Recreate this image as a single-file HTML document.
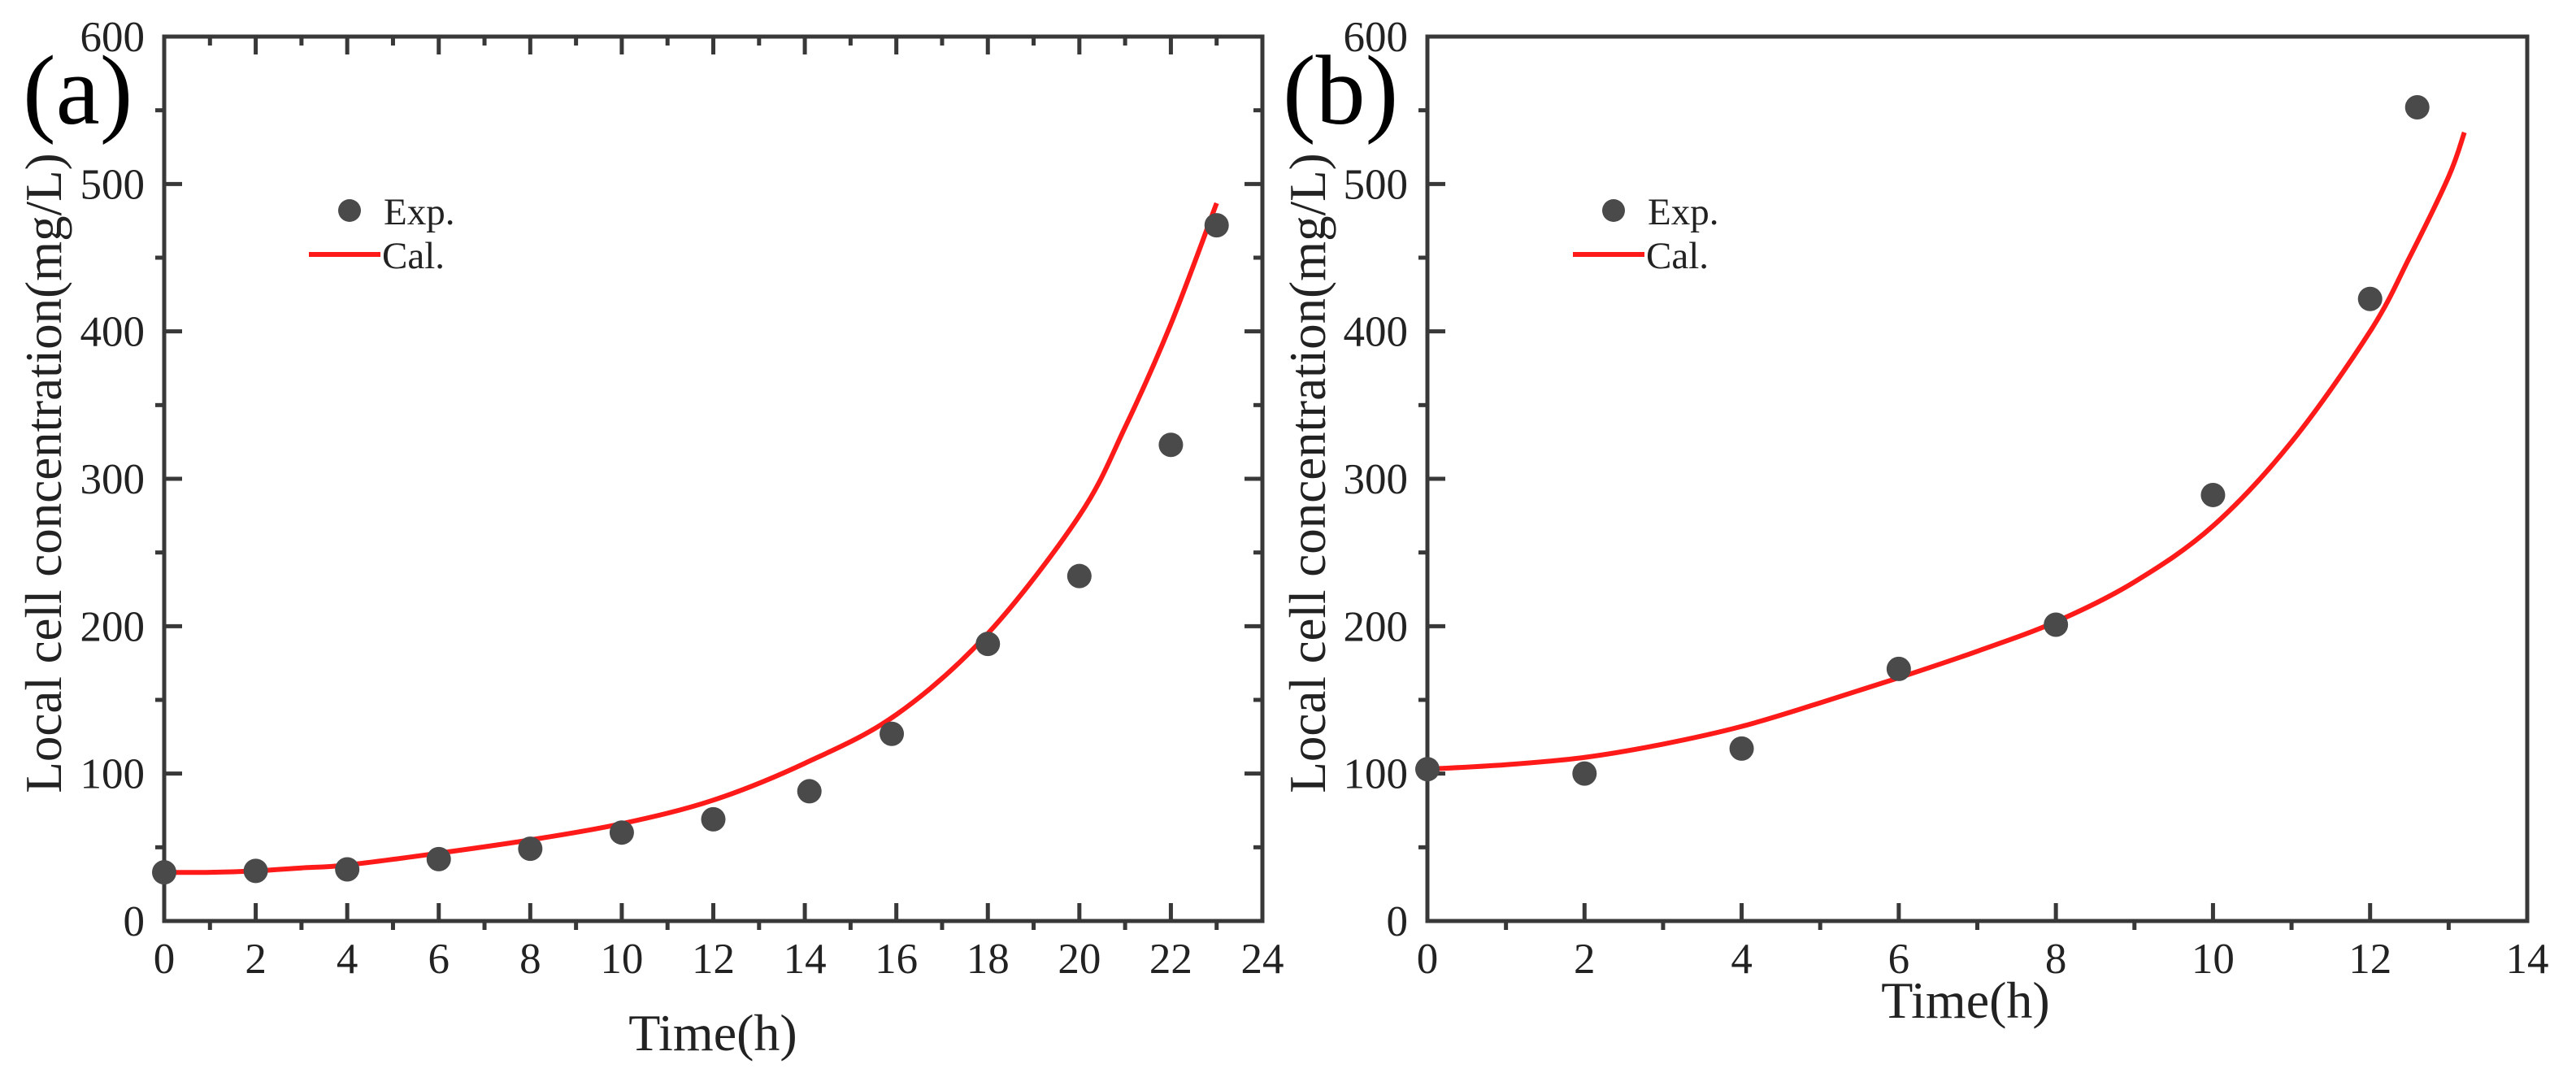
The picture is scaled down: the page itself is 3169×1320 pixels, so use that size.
<!DOCTYPE html>
<html><head><meta charset="utf-8"><style>
html,body{margin:0;padding:0;background:#fff;}
svg{display:block;}
text{font-family:"Liberation Serif",serif;}
</style></head><body>
<svg id="chart" width="3169" height="1320" viewBox="0 0 3169 1320" xmlns="http://www.w3.org/2000/svg"></svg>
<script>
// Panel (a) data
const aExpX = [0,2,4,6,8,10,12,14.1,15.9,18,20,22,23];
const aExpY = [33,34,35,42,49,60,69,88,127,188,234,323,472];
const aCalX = [0,1,2,3,4,6,8,10,12,14,16,18,20,21,22,23];
const aCalY = [33,33,34,36,38,46,55,66,82,107,140,195,275,335,405,487];
const aXTicks = [0,2,4,6,8,10,12,14,16,18,20,22,24];
// Panel (b) data
const bExpX = [0,2,4,6,8,10,12,12.6];
const bExpY = [103,100,117,171,201,289,422,552];
const bCalX = [0,1,2,3,4,5,6,7,8,9,10,11,12,12.5,13,13.2];
const bCalY = [103,106,111,120,132,148,165,183,203,230,268,325,400,450,505,535];
const bXTicks = [0,2,4,6,8,10,12,14];
const yTicks = [0,100,200,300,400,500,600];

const svg = document.getElementById('chart');
const NS = 'http://www.w3.org/2000/svg';
function mk(tag, attrs, parent){
  const e = document.createElementNS(NS, tag);
  for (const k in attrs) e.setAttribute(k, attrs[k]);
  (parent||svg).appendChild(e);
  return e;
}
function smoothPath(pts){
  let d = 'M'+pts[0][0]+','+pts[0][1];
  for (let i=0;i<pts.length-1;i++){
    const p0=pts[Math.max(0,i-1)], p1=pts[i], p2=pts[i+1], p3=pts[Math.min(pts.length-1,i+2)];
    const c1x=p1[0]+(p2[0]-p0[0])/6, c1y=p1[1]+(p2[1]-p0[1])/6;
    const c2x=p2[0]-(p3[0]-p1[0])/6, c2y=p2[1]-(p3[1]-p1[1])/6;
    d+=' C'+c1x+','+c1y+' '+c2x+','+c2y+' '+p2[0]+','+p2[1];
  }
  return d;
}
function panel(cfg){
  const g = mk('g', {});
  
  
  const L=cfg.left, R=cfg.right, T=45, B=1133;
  const sx = v => L + v / cfg.xmax * (R - L);
  const sy = v => B - v / 600 * (B - T);
  const ax = '#383838';
  const frame = mk('path', {d:`M${L},${T} H${R} V${B} H${L} Z`, fill:'none', stroke:ax, 'stroke-width':5}, g);
  
  
  const step = cfg.xTicks[1]-cfg.xTicks[0];
  cfg.xTicks.forEach((t,i)=>{
    const x = sx(t);
    if (i>0 && i<cfg.xTicks.length-1){
      mk('line',{x1:x,y1:B,x2:x,y2:B-22,stroke:ax,'stroke-width':5},g);
      if (cfg.mirror) mk('line',{x1:x,y1:T,x2:x,y2:T+22,stroke:ax,'stroke-width':5},g);
    }
    if (i<cfg.xTicks.length-1){
      const xm = sx(t+step/2);
      mk('line',{x1:xm,y1:B,x2:xm,y2:B+11,stroke:ax,'stroke-width':5},g);
      if (cfg.mirror) mk('line',{x1:xm,y1:T,x2:xm,y2:T+11,stroke:ax,'stroke-width':5},g);
    }
    const lbl = mk('text',{x:x,y:1197,'font-size':53,'text-anchor':'middle',fill:'#222'},g);
    lbl.textContent = t;
    
    
  });
  yTicks.forEach((t,i)=>{
    const y = sy(t);
    if (i>0 && i<yTicks.length-1){
      mk('line',{x1:L,y1:y,x2:L+22,y2:y,stroke:ax,'stroke-width':5},g);
      if (cfg.mirror) mk('line',{x1:R,y1:y,x2:R-22,y2:y,stroke:ax,'stroke-width':5},g);
    }
    if (i<yTicks.length-1){
      const ym = sy(t+50);
      mk('line',{x1:L,y1:ym,x2:L-11,y2:ym,stroke:ax,'stroke-width':5},g);
      if (cfg.mirror) mk('line',{x1:R,y1:ym,x2:R-11,y2:ym,stroke:ax,'stroke-width':5},g);
    }
    const lbl = mk('text',{x:L-24,y:y+18,'font-size':53,'text-anchor':'end',fill:'#222'},g);
    lbl.textContent = t;
    
    
  });
  const pts = cfg.calX.map((x,i)=>[sx(x), sy(cfg.calY[i])]);
  const line = mk('path',{d:smoothPath(pts),fill:'none',stroke:'#ff1a1a','stroke-width':6},g);
  
  
  cfg.expX.forEach((x,i)=>{
    const c = mk('circle',{cx:sx(x),cy:sy(cfg.expY[i]),r:15,fill:'#4a4a4a'},g);
    
    
  });
  const yt = mk('text',{x:0,y:0,'font-size':63,'text-anchor':'middle',fill:'#222',transform:`translate(${cfg.ytX},582) rotate(-90)`},g);
  yt.textContent = 'Local cell concentration(mg/L)';
  
  
  const xt = mk('text',{x:cfg.xtX,y:cfg.xtY,'font-size':64,'text-anchor':'middle',fill:'#222'},g);
  xt.textContent = 'Time(h)';
  
  
  const pl = mk('text',{x:cfg.plX,y:152,'font-size':122,fill:'#000'},g);
  pl.textContent = cfg.label;
  
  
  const lg = mk('g',{},g);
  
  
  const ld = mk('circle',{cx:cfg.lgX+50,cy:259,r:14,fill:'#4a4a4a'},lg);
  
  
  const le = mk('text',{x:cfg.lgX+92,y:276,'font-size':47,fill:'#222'},lg);
  le.textContent = 'Exp.';
  
  
  const ll = mk('line',{x1:cfg.lgX,y1:313,x2:cfg.lgX+88,y2:313,stroke:'#ff1a1a','stroke-width':6},lg);
  
  
  const lc = mk('text',{x:cfg.lgX+90,y:330,'font-size':47,fill:'#222'},lg);
  lc.textContent = 'Cal.';
  
  
}
panel({name:'panel-a',left:202,right:1553,xmax:24,xTicks:aXTicks,expX:aExpX,expY:aExpY,calX:aCalX,calY:aCalY,mirror:true,ytX:75,xtX:877,xtY:1292,plX:28,label:'(a)',lgX:380});
panel({name:'panel-b',left:1756,right:3109,xmax:14,xTicks:bXTicks,expX:bExpX,expY:bExpY,calX:bCalX,calY:bCalY,mirror:false,ytX:1630,xtX:2418,xtY:1252,plX:1578,label:'(b)',lgX:1935});
</script>
</body></html>
